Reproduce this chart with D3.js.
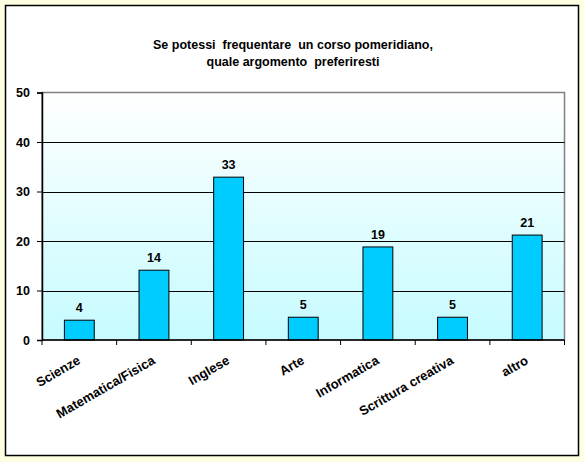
<!DOCTYPE html>
<html><head><meta charset="utf-8">
<script src="https://cdn.jsdelivr.net/npm/d3@7"></script>
<style>
html,body{margin:0;padding:0;background:#FFFFE1;}
svg{display:block;font-family:"Liberation Sans",Arial,sans-serif;}
</style></head>
<body>
<svg id="c" width="584" height="462"></svg>
<script>
const categories = ["Scienze","Matematica/Fisica","Inglese","Arte","Informatica","Scrittura creativa","altro"];
const values = [4.0, 14.1, 32.9, 4.6, 18.8, 4.6, 21.2];
const yTicks = [0,10,20,30,40,50];
const titleLines = ["Se potessi  frequentare  un corso pomeridiano,", "quale argomento  preferiresti"];

const svg = d3.select("#c");
svg.append("rect").attr("x",5.5).attr("y",5.5).attr("width",573).attr("height",450)
  .attr("fill","#fff").attr("stroke","#000").attr("stroke-width",1.5);

const L = 42, R = 564.5, T = 92.5, B = 340;
const x = d3.scaleBand().domain(categories).range([L,R]).paddingInner(0.6).paddingOuter(0.3);
const xb = d3.scaleBand().domain(categories).range([L,R]);
const y = d3.scaleLinear().domain([0,50]).range([B,T]);

const defs = svg.append("defs");
const g = defs.append("linearGradient").attr("id","bg").attr("x1",0).attr("y1",0).attr("x2",0).attr("y2",1);
g.append("stop").attr("offset","0%").attr("stop-color","#FFFFFF");
g.append("stop").attr("offset","100%").attr("stop-color","#C6FBFF");

svg.append("rect").attr("x",L).attr("y",T).attr("width",R-L).attr("height",B-T)
  .attr("fill","url(#bg)").attr("stroke","#808080").attr("stroke-width",1.5);

// gridlines
svg.append("g").selectAll("line").data(yTicks.filter(d=>d>0 && d<50)).join("line")
  .attr("x1",L).attr("x2",R).attr("y1",d=>Math.round(y(d))+0.5).attr("y2",d=>Math.round(y(d))+0.5)
  .attr("stroke","#000").attr("stroke-width",1);

// bars
svg.append("g").selectAll("rect").data(values).join("rect")
  .attr("x",(d,i)=>x(categories[i])).attr("width",x.bandwidth())
  .attr("y",d=>y(d)).attr("height",d=>B-y(d))
  .attr("fill","#00CCFF").attr("stroke","#000").attr("stroke-width",1);

// value labels
svg.append("g").selectAll("text").data(values).join("text")
  .attr("x",(d,i)=>x(categories[i])+x.bandwidth()/2).attr("y",d=>y(d)-8)
  .attr("text-anchor","middle").attr("font-size",12.5).attr("font-weight","bold")
  .text(d=>d3.format(".0f")(d));

// y axis
const ya = svg.append("g").attr("transform",`translate(${L},0)`)
  .call(d3.axisLeft(y).tickValues(yTicks).tickSize(5).tickPadding(7));
ya.select(".domain").attr("stroke","#000").attr("stroke-width",1.5);
ya.selectAll("text").attr("font-size",12.5).attr("font-weight","bold").attr("font-family","Liberation Sans, Arial, sans-serif").attr("fill","#000");
ya.selectAll(".tick line").attr("stroke","#000");

// x axis
svg.append("line").attr("x1",L).attr("x2",R).attr("y1",B).attr("y2",B).attr("stroke","#000").attr("stroke-width",1.5);
const bounds = categories.map(c=>xb(c)).concat([R]);
svg.append("g").selectAll("line").data(bounds).join("line")
  .attr("x1",d=>d).attr("x2",d=>d).attr("y1",B).attr("y2",B+5).attr("stroke","#000");
svg.append("g").selectAll("text").data(categories).join("text")
  .attr("transform",d=>`translate(${xb(d)+xb.bandwidth()/2+2},${B+23}) rotate(-30)`)
  .attr("text-anchor","end").attr("font-size",13).attr("font-weight","bold")
  .text(d=>d);

// title
svg.append("g").selectAll("text").data(titleLines).join("text")
  .attr("x",293).attr("y",(d,i)=>49+i*17).attr("text-anchor","middle")
  .attr("font-size",12.5).attr("font-weight","bold").attr("xml:space","preserve")
  .style("white-space","pre").text(d=>d);
</script>
</body></html>
